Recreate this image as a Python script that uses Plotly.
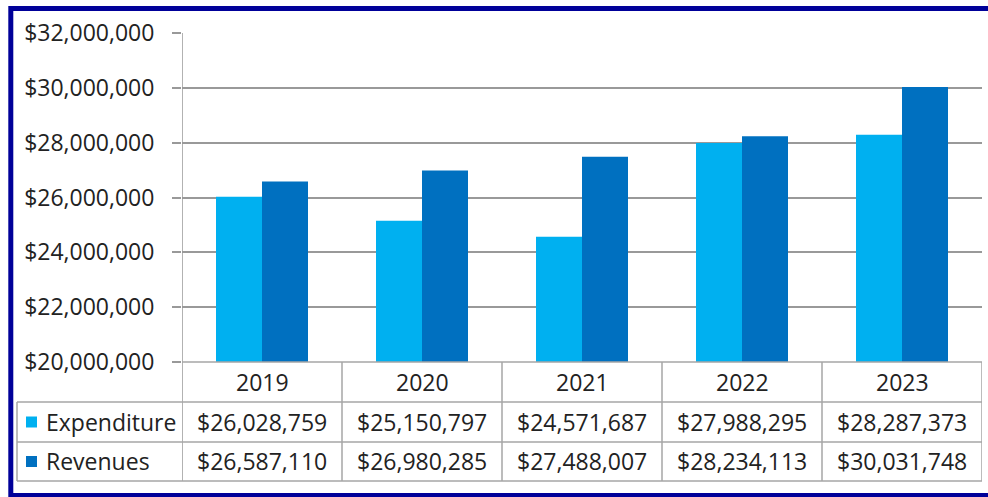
import plotly.graph_objects as go

years = ["2019", "2020", "2021", "2022", "2023"]
expenditure = [26028759, 25150797, 24571687, 27988295, 28287373]
revenues = [26587110, 26980285, 27488007, 28234113, 30031748]
series_names = ["Expenditure", "Revenues"]
series_colors = ["#00B0F0", "#0070C0"]

W, H = 988, 497
L, R, T, B = 182, 982, 33, 362
FONT = "Open Sans"
FS = 23
TXT = "#222222"
GRID = "#999999"
TABLE = "#a6a6a6"

def px(x):
    return (x - L) / (R - L)

def py(y):
    return (B - y) / (B - T)

fig = go.Figure()
for name, vals, col in zip(series_names, [expenditure, revenues], series_colors):
    fig.add_trace(go.Bar(x=years, y=vals, name=name, marker=dict(color=col, line=dict(width=0))))

fig.update_layout(
    width=W, height=H,
    margin=dict(l=L, r=W - R, t=T, b=H - B),
    paper_bgcolor="white", plot_bgcolor="white",
    barmode="group", bargap=0.425, bargroupgap=0,
    showlegend=False,
    font=dict(family=FONT, size=FS, color=TXT),
)
fig.update_xaxes(type="category", range=[-0.5, 4.5], showticklabels=False, ticks="",
                 showgrid=False, showline=False, zeroline=False)
fig.update_yaxes(range=[20000000, 32000000], dtick=2000000, tickprefix="$", tickformat=",d",
                 showgrid=True, gridcolor=GRID, gridwidth=1.5, zeroline=False,
                 ticks="outside", ticklen=9, tickcolor=GRID, tickwidth=1.5,
                 ticklabelstandoff=13, tickfont=dict(family=FONT, size=FS, color=TXT),
                 showline=False)

shapes = []
line = dict(color=TABLE, width=1.5)
rows_y = [362, 402, 442, 481]
# vertical column boundaries
for i in range(len(years) + 1):
    shapes.append(dict(type="line", xref="x", yref="paper", x0=i - 0.5, x1=i - 0.5,
                       y0=1 if i == 0 else 0, y1=py(rows_y[-1]),
                       line=dict(color=GRID if i == 0 else TABLE, width=1.5), layer="above"))
# horizontal lines
shapes.append(dict(type="line", xref="paper", yref="paper", x0=0, x1=1, y0=0, y1=0, line=line, layer="above"))
for yy in rows_y[1:]:
    shapes.append(dict(type="line", xref="paper", yref="paper", x0=px(17), x1=1,
                       y0=py(yy), y1=py(yy), line=line, layer="above"))
# left edge of series rows
shapes.append(dict(type="line", xref="paper", yref="paper", x0=px(17), x1=px(17),
                   y0=py(402), y1=py(481), line=line, layer="above"))
# legend keys
for k, col in enumerate(series_colors):
    cy = (rows_y[k + 1] + rows_y[k + 2]) / 2
    shapes.append(dict(type="rect", xref="paper", yref="paper", x0=px(26), x1=px(37),
                       y0=py(cy + 5.5), y1=py(cy - 5.5), fillcolor=col, line=dict(width=0), layer="above"))
# outer border
shapes.append(dict(type="rect", xref="paper", yref="paper", x0=px(10.8), x1=px(1000),
                   y0=py(495.5), y1=py(8.5), line=dict(color="#000099", width=5),
                   fillcolor="rgba(0,0,0,0)", layer="above"))

annotations = []
hy = (rows_y[0] + rows_y[1]) / 2
for i, yr in enumerate(years):
    annotations.append(dict(x=i, xref="x", y=py(hy), yref="paper", text=yr, showarrow=False,
                            xanchor="center", yanchor="middle", font=dict(family=FONT, size=FS, color=TXT)))
for k, (name, vals) in enumerate(zip(series_names, [expenditure, revenues])):
    cy = (rows_y[k + 1] + rows_y[k + 2]) / 2
    annotations.append(dict(x=px(44), xref="paper", y=py(cy), yref="paper", text=name, showarrow=False,
                            xanchor="left", yanchor="middle", font=dict(family=FONT, size=FS, color=TXT)))
    for i, v in enumerate(vals):
        annotations.append(dict(x=i, xref="x", y=py(cy), yref="paper", text=f"${v:,}", showarrow=False,
                                xanchor="center", yanchor="middle", font=dict(family=FONT, size=FS, color=TXT)))

fig.update_layout(shapes=shapes, annotations=annotations)
fig.write_html("out.html", config={"displayModeBar": False},
               post_script="document.body.style.margin='0';document.body.style.overflow='hidden';")
